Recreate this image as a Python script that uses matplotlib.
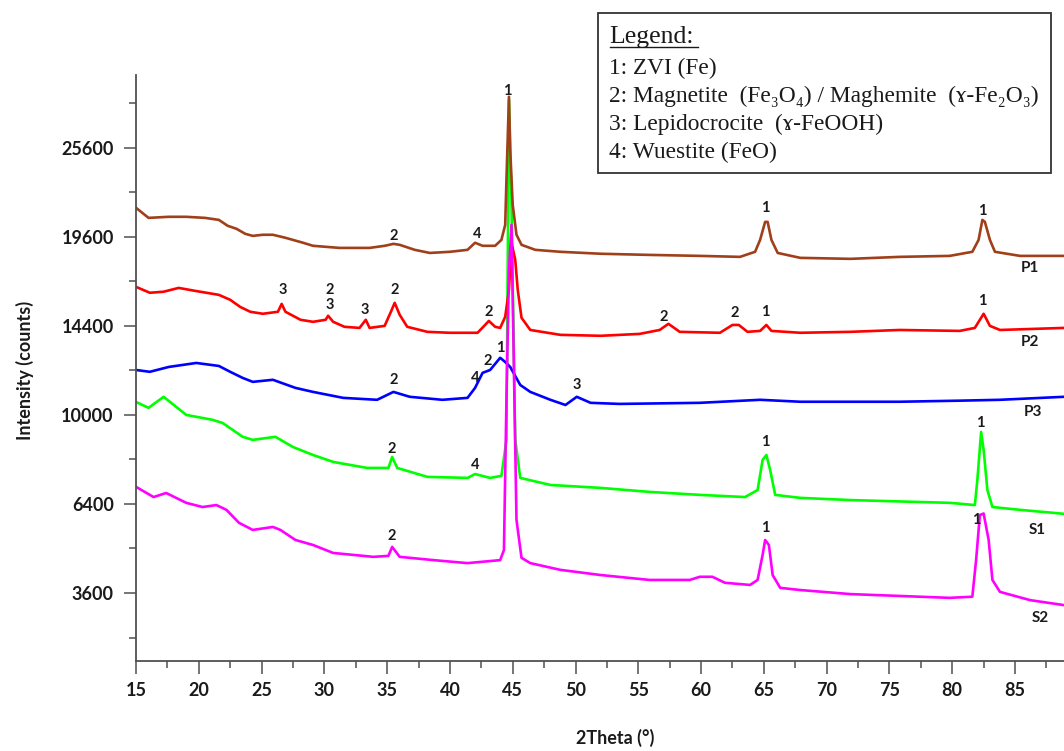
import matplotlib
matplotlib.use("Agg")
import matplotlib.pyplot as plt
import numpy as np
from matplotlib.lines import Line2D
from matplotlib.patches import Rectangle

# XRD patterns (2theta in degrees, intensity in counts)
p1_x = [15.0, 16.0, 17.6, 19.0, 20.5, 21.6, 22.3, 23.0, 23.7, 24.3, 25.1, 25.9, 26.9, 28.3, 29.1,
        31.2, 33.6, 34.8, 35.5, 36.0, 37.2, 38.4, 40.0, 41.4, 42.0, 42.6, 43.6, 44.1, 44.4, 44.5,
        44.7, 44.8, 45.0, 45.3, 45.7, 46.8, 48.8, 52.0, 55.9, 59.9, 63.1, 64.3, 64.7, 65.1, 65.3,
        65.6, 66.1, 67.9, 71.9, 75.8, 79.8, 81.6, 82.1, 82.4, 82.6, 83.0, 83.4, 85.4, 88.9]
p1_y = [21470, 20810, 20880, 20880, 20810, 20680, 20300, 20110, 19790, 19660, 19730, 19730, 19540, 19230, 19040,
        18910, 18910, 19040, 19160, 19100, 18790, 18600, 18670, 18790, 19230, 19040, 19040, 19410, 20360, 23350,
        29400, 25460, 21660, 19730, 19100, 18790, 18670, 18550, 18480, 18420, 18360, 18670, 19410, 20550, 20550,
        19410, 18600, 18300, 18240, 18360, 18420, 18670, 19410, 20680, 20550, 19410, 18670, 18420, 18420]

p2_x = [15.0, 16.1, 17.2, 18.4, 19.7, 21.6, 22.5, 23.3, 24.1, 25.1, 26.3, 26.6, 26.9, 28.1, 29.1,
        30.1, 30.3, 30.7, 31.6, 32.8, 33.3, 33.6, 34.8, 35.3, 35.6, 36.0, 36.6, 38.2, 40.0, 42.2,
        42.8, 43.1, 43.6, 44.0, 44.4, 44.7, 44.9, 45.2, 45.4, 45.7, 46.4, 48.8, 52.0, 55.1, 56.7,
        57.4, 58.3, 61.5, 62.5, 63.0, 63.7, 64.7, 65.2, 65.6, 67.9, 71.9, 75.8, 80.6, 81.8, 82.5,
        83.0, 83.8, 88.9]
p2_y = [16580, 16240, 16300, 16520, 16350, 16120, 15840, 15440, 15170, 15060, 15170, 15610, 15170, 14730, 14620,
        14730, 14950, 14620, 14350, 14290, 14730, 14290, 14400, 15170, 15670, 15000, 14350, 14080, 14030, 14030,
        14450, 14670, 14350, 14290, 14890, 16410, 19230, 18180, 16410, 14840, 14180, 13920, 13870, 13970, 14180,
        14510, 14080, 14030, 14450, 14450, 14080, 14130, 14450, 14130, 14030, 14080, 14180, 14130, 14290, 15060,
        14400, 14180, 14290]

p3_x = [15.0, 16.1, 17.6, 19.8, 21.6, 22.5, 23.5, 24.3, 25.9, 27.7, 29.1, 31.5, 34.2, 35.5, 36.8,
        39.4, 41.4, 42.0, 42.6, 43.2, 44.0, 44.4, 44.8, 45.6, 46.4, 48.0, 49.2, 50.1, 51.2, 53.5,
        59.9, 64.7, 67.9, 75.8, 80.6, 83.8, 88.9]
p3_y = [12120, 12030, 12270, 12470, 12320, 12030, 11730, 11540, 11640, 11250, 11060, 10780, 10690, 11060, 10830,
        10690, 10780, 11250, 11980, 12120, 12730, 12520, 12270, 11390, 11060, 10690, 10450, 10830, 10550, 10500,
        10550, 10690, 10600, 10600, 10650, 10690, 10830]

s1_x = [15.0, 16.0, 17.2, 19.0, 21.1, 21.9, 23.5, 24.3, 26.1, 27.5, 29.1, 30.7, 33.4, 35.1, 35.4,
        35.8, 38.2, 41.4, 42.0, 43.2, 44.1, 44.5, 44.7, 44.9, 45.2, 45.6, 48.0, 52.0, 55.9, 59.9,
        63.5, 64.5, 64.9, 65.2, 65.5, 65.9, 67.9, 71.9, 79.8, 81.8, 82.0, 82.3, 82.5, 82.8, 83.2,
        85.4, 88.9]
s1_y = [10590, 10320, 10830, 10000, 9780, 9640, 9040, 8910, 9040, 8610, 8280, 8000, 7760, 7760, 8200,
        7760, 7410, 7370, 7520, 7370, 7450, 8910, 29170, 22000, 8910, 7370, 7100, 6990, 6840, 6730,
        6650, 6910, 8080, 8280, 7680, 6730, 6620, 6540, 6440, 6360, 7290, 9250, 8490, 6910, 6290,
        6190, 6050]

s2_x = [15.0, 16.4, 17.4, 19.0, 20.3, 21.4, 22.2, 23.2, 24.3, 25.9, 26.5, 27.7, 29.1, 30.7, 33.9,
        35.1, 35.4, 36.0, 38.7, 41.4, 44.0, 44.3, 44.5, 44.7, 44.9, 45.0, 45.3, 45.7, 46.4, 48.8,
        52.0, 55.9, 59.1, 59.9, 60.9, 61.9, 63.9, 64.5, 64.9, 65.1, 65.4, 65.7, 66.3, 67.9, 71.9,
        79.8, 81.6, 81.9, 82.2, 82.5, 82.9, 83.2, 83.8, 86.2, 88.9]
s2_y = [7030, 6650, 6800, 6440, 6290, 6360, 6190, 5740, 5500, 5600, 5500, 5170, 5010, 4760, 4640,
        4670, 4950, 4640, 4540, 4450, 4540, 4850, 10690, 17500, 20360, 15840, 5840, 4610, 4450, 4250,
        4100, 3960, 3960, 4050, 4050, 3880, 3820, 3960, 4700, 5170, 5010, 4100, 3740, 3680, 3570,
        3470, 3500, 4540, 6010, 6060, 5170, 3960, 3630, 3410, 3280]

# phase labels above the peaks: (2theta, counts, text)
p1_marks = [(35.5, 19660, "2"), (42.2, 19790, "4"), (44.6, 29860, "1"), (65.1, 21470, "1"), (82.4, 21270, "1")]
p2_marks = [(26.7, 16410, "3"), (30.4, 16410, "2"), (30.4, 15560, "3"), (33.2, 15280, "3"), (35.6, 16410, "2"),
            (43.1, 15170, "2"), (57.0, 14890, "2"), (62.7, 15110, "2"), (65.1, 15170, "1"), (82.4, 15780, "1")]
p3_marks = [(35.5, 11640, "2"), (42.0, 11730, "4"), (43.0, 12570, "2"), (44.0, 13240, "1"), (50.1, 11390, "3")]
s1_marks = [(35.4, 8530, "2"), (42.0, 7880, "4"), (65.1, 8820, "1"), (82.2, 9640, "1")]
s2_marks = [(35.4, 5300, "2"), (65.1, 5570, "1"), (81.9, 5840, "1")]

names = ["P1", "P2", "P3", "S1", "S2"]
name_pos = [(86.2, 17700), (86.2, 13550), (86.4, 10130), (86.8, 5500), (87.0, 2960)]

y_major = [3600, 6400, 10000, 14400, 19600, 25600]
y_minor = [2500, 4900, 8100, 12100, 16900, 22500, 28900]
x_major = np.arange(15, 90, 5)
x_minor = np.arange(17.5, 90, 5)

legend_lines = ["1: ZVI (Fe)",
                "2: Magnetite  (Fe\u2083O\u2084) / Maghemite  (ɤ-Fe\u2082O\u2083)",
                "3: Lepidocrocite  (ɤ-FeOOH)",
                "4: Wuestite (FeO)"]

W, H = 1064, 751
fig = plt.figure(figsize=(W / 100, H / 100), dpi=100)
ax = fig.add_axes([136 / W, (H - 661) / H, (W - 136) / W, (661 - 75) / H])
ax.set_yscale('function', functions=(np.sqrt, np.square))

lw = 1.9
ax.plot(s1_x, s1_y, color='#00ff00', lw=lw)
ax.plot(p3_x, p3_y, color='#0000ff', lw=lw)
ax.plot(p2_x, p2_y, color='#ff0000', lw=lw)
ax.plot(s2_x, s2_y, color='#ff00ff', lw=lw)
ax.plot(p1_x, p1_y, color='#a0401a', lw=lw)

lab_font = dict(family='Lato', weight='bold')
for marks in [p1_marks, p2_marks, p3_marks, s1_marks, s2_marks]:
    for x, y, t in marks:
        ax.text(x, y, t, ha='center', va='center', fontsize=10.5, color='#1a1a1a', **lab_font)
for n, (x, y) in zip(names, name_pos):
    ax.text(x, y, n, ha='center', va='center', fontsize=11, color='#1a1a1a', **lab_font)

ax.set_xlim(15, 88.9)
ax.set_ylim(2000, 31100)
ax.set_yticks(y_major)
ax.set_yticks(y_minor, minor=True)
ax.set_xticks(x_major)
ax.set_xticks(x_minor, minor=True)
ax.set_yticklabels([str(v) for v in y_major])

for s in ['top', 'right']:
    ax.spines[s].set_visible(False)
for s in ['left', 'bottom']:
    ax.spines[s].set_color('#505050')
    ax.spines[s].set_linewidth(1.3)
ax.tick_params(which='major', length=9, width=1.1, color='#505050', pad=6)
ax.tick_params(which='minor', length=5, width=1.1, color='#505050')
ax.tick_params(axis='y', which='major', pad=7)
for lbl in ax.get_xticklabels() + ax.get_yticklabels():
    lbl.set_fontfamily('Lato')
    lbl.set_fontweight('bold')
    lbl.set_fontsize(13)
    lbl.set_color('#1a1a1a')

fig.text(25 / W, 1 - 370 / H, "Intensity (counts)", rotation=90, ha='center', va='center',
         fontsize=13, color='#1a1a1a', **lab_font)
fig.text(615 / W, 1 - 738 / H, "2Theta (°)", ha='center', va='center',
         fontsize=13, color='#1a1a1a', **lab_font)

# legend box drawn by hand, as in the source figure
fig.patches.append(Rectangle((598 / W, 1 - 173 / H), (1051 - 598) / W, (173 - 13) / H,
                             transform=fig.transFigure, fill=True, facecolor='white',
                             edgecolor='#333333', lw=1.3, zorder=5))
serif = ['Liberation Serif', 'DejaVu Serif']
fig.text(609 / W, 1 - 37 / H, "Legend:", ha='left', va='center', fontsize=18.5,
         family=serif, color='#1a1a1a', zorder=6)
fig.lines.append(Line2D([610 / W, 698 / W], [1 - 47 / H, 1 - 47 / H], transform=fig.transFigure,
                        color='#1a1a1a', lw=1.0, zorder=6))
for i, t in enumerate(legend_lines):
    fig.text(609 / W, 1 - (68 + 28.3 * i) / H, t, ha='left', va='center', fontsize=16.8,
             family=serif, color='#1a1a1a', zorder=6)

fig.savefig('out.png', dpi=100)
